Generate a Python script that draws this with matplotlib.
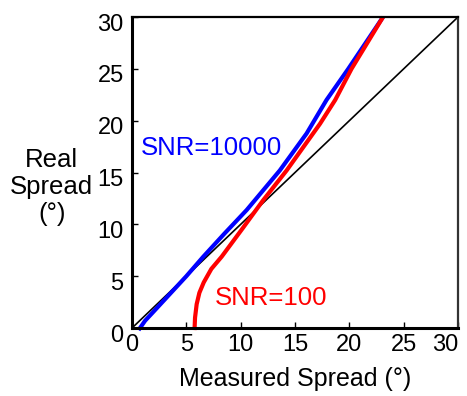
import numpy as np
import matplotlib.pyplot as plt
import matplotlib.transforms as mtransforms

plt.rcParams['font.family'] = ['Liberation Sans', 'DejaVu Sans']

snr10000_x = [0.6, 1.2, 2.0, 3.5, 5.0, 6.56, 8.5, 10.55, 13.6, 16.07, 17.9, 19.9, 23.1]
snr10000_y = [-0.2, 0.7, 1.6, 3.3, 5.0, 6.88, 9.1, 11.38, 15.2, 18.77, 22.0, 25.0, 30.0]

snr100_x = [5.75, 5.8, 5.95, 6.2, 6.6, 7.3, 8.25, 10.1, 12.08, 14.23, 17.3, 18.7, 20.2, 23.1]
snr100_y = [-0.2, 1.0, 2.3, 3.4, 4.4, 5.7, 6.88, 9.5, 12.34, 15.2, 19.7, 22.0, 25.0, 30.0]

ticks = [0, 5, 10, 15, 20, 25, 30]

fig = plt.figure(figsize=(4.67, 3.96), dpi=100)
ax = fig.add_axes([0.2827, 0.1717, 0.698, 0.7853])

ax.plot([0, 30], [0, 30], color='black', lw=1.2)
ax.plot(snr10000_x, snr10000_y, color='#0000ff', lw=3, solid_capstyle='butt', clip_on=False)
ax.plot(snr100_x, snr100_y, color='#ff0000', lw=3, solid_capstyle='butt', clip_on=False)

ax.text(0.8, 17.4, 'SNR=10000', color='#0000ff', fontsize=18.5, va='center', ha='left')
ax.text(7.6, 2.9, 'SNR=100', color='#ff0000', fontsize=18.5, va='center', ha='left')

ax.set_xlim(0, 30)
ax.set_ylim(0, 30)
ax.set_xticks(ticks)
ax.set_yticks(ticks)
ax.tick_params(direction='in', length=4, width=1, labelsize=17)
ax.tick_params(axis='x', pad=4.5)
ax.tick_params(axis='y', pad=6)

# y labels sit a little below their ticks in the original
shift = mtransforms.ScaledTranslation(0, -5 / 100, fig.dpi_scale_trans)
for lab in ax.get_yticklabels():
    lab.set_transform(lab.get_transform() + shift)
# last x label pulled inside the figure
ax.get_xticklabels()[-1].set_horizontalalignment('right')

for side in ['left', 'bottom']:
    ax.spines[side].set_linewidth(2.2)
ax.spines['top'].set_linewidth(1.6)
ax.spines['right'].set_linewidth(1.6)
ax.spines['right'].set_color('#333333')

ax.set_xlabel('Measured Spread (°)', fontsize=18, labelpad=8)
fig.text(0.111, 0.528, 'Real\nSpread\n(°)', fontsize=18.5, ha='center', va='center', linespacing=1.15)

fig.savefig('out.png', dpi=100)
